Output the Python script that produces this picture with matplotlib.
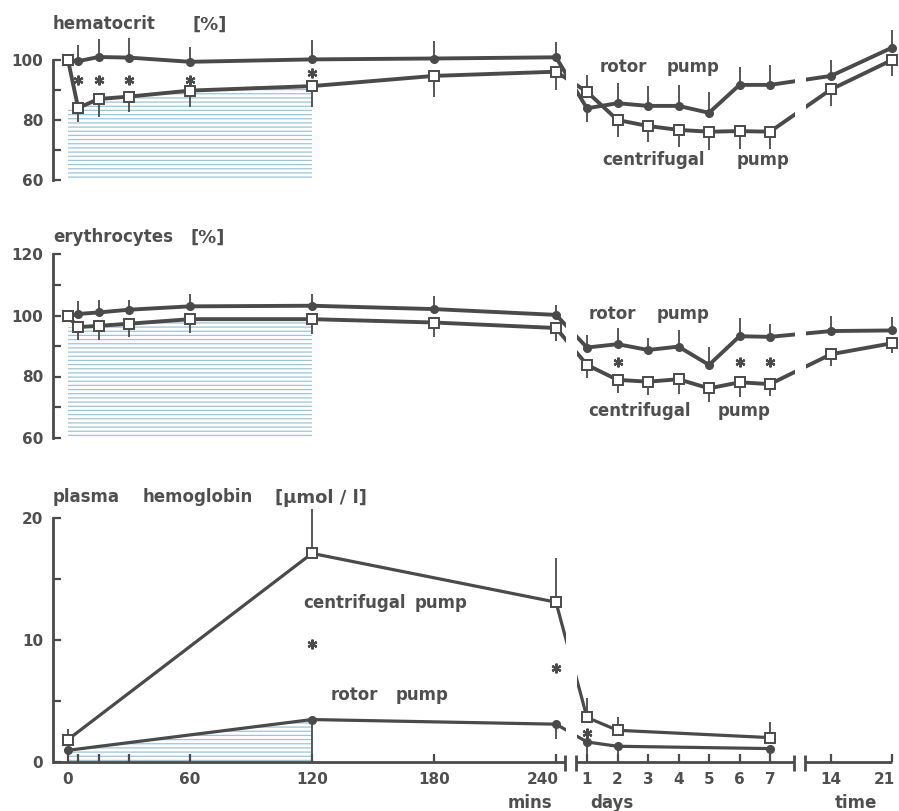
import numpy as np
import matplotlib
matplotlib.use('Agg')
import matplotlib.pyplot as plt
from matplotlib.transforms import ScaledTranslation

# sampling times: minutes during the run, then days afterwards
t_min = np.array([0, 5, 15, 30, 60, 120, 180, 240])
t_day = np.array([1, 2, 3, 4, 5, 6, 7, 14, 21])
t_pl_min = np.array([0, 120, 240])
t_pl_day = np.array([1, 2, 7])

# hematocrit [%]
hct_rot_min = [100, 99.6, 101, 100.8, 99.4, 100.2, 100.5, 100.9]
hct_rot_min_hi = [0, 5.5, 6, 6.5, 5, 6.5, 6, 5]
hct_rot_day = [83.9, 85.6, 84.7, 84.7, 82.4, 91.7, 91.7, 94.7, 104.1]
hct_rot_day_lo = [4.4, 0, 0, 0, 0, 0, 0, 0, 0]
hct_rot_day_hi = [0, 6.7, 6.7, 7, 7, 6.1, 6.7, 5.3, 5.9]
hct_cen_min = [100, 84, 87, 87.8, 89.8, 91.3, 94.7, 96.1]
hct_cen_min_lo = [0, 4.5, 6, 5, 5.5, 7, 7, 6]
hct_cen_day = [89.4, 80, 78, 76.7, 76.1, 76.3, 76.1, 90.2, 100]
hct_cen_day_lo = [0, 5.6, 5.2, 5.6, 6.1, 5.8, 5.6, 5.6, 5.3]
hct_cen_day_hi = [5.6, 0, 0, 0, 0, 0, 0, 0, 0]
hct_sig_x = [5, 15, 30, 60, 120]
hct_sig_y = [93.3, 93.3, 93.3, 93.3, 95.8]

# erythrocytes [%]
ery_rot_min = [99.7, 100.5, 101, 101.9, 103, 103.2, 102.1, 100.2]
ery_rot_min_hi = [0, 4.2, 4.2, 3.3, 4.2, 4, 4.2, 3.3]
ery_rot_day = [89.5, 90.6, 88.7, 89.8, 83.8, 93.2, 93, 94.9, 95.1]
ery_rot_day_hi = [4.2, 5.3, 3.9, 5.5, 6, 6, 4.1, 5, 4.5]
ery_cen_min = [99.7, 96.2, 96.6, 97.3, 98.8, 98.8, 97.7, 95.9]
ery_cen_min_lo = [0, 4.2, 4.6, 4.2, 4.6, 4.8, 4.8, 4.4]
ery_cen_day = [83.8, 78.9, 78.3, 79.1, 76.1, 78.1, 77.5, 87.3, 90.9]
ery_cen_day_lo = [4.4, 4.4, 4.4, 4.8, 4.4, 4.7, 4, 4, 3.3]
ery_sig_day = [2, 6, 7]
ery_sig_y = [84.6, 84.6, 84.6]

# plasma hemoglobin [umol/l]
phb_rot = [0.96, 3.48, 3.1, 1.64, 1.29, 1.1]
phb_rot_lo = [0, 3.4, 1.2, 1.6, 1.3, 0.7]
phb_cen = [1.84, 17.1, 13.1, 3.65, 2.6, 2.0]
phb_cen_hi = [0.9, 3.6, 3.6, 1.6, 1.1, 1.3]
phb_sig_x = [120, 240, 1440]
phb_sig_y = [9.7, 7.7, 2.4]

W, H = 899, 811
DARK = '#4a4a4a'
TXT = '#4f4f4f'
HATCH = '#9ec4d6'

plt.rcParams['font.family'] = 'DejaVu Sans'
plt.rcParams['font.weight'] = 'bold'
plt.rcParams['hatch.linewidth'] = 0.9

# broken time axis: minutes -> layout position
T_KNOTS = [-2000, 0, 240, 1440, 10080, 20160, 30240, 60000]
P_KNOTS = [68 - 2000 * 488 / 240, 68, 556, 587, 770, 831, 892,
           892 + 29760 * 61 / 10080]


def fwd(t):
    return np.interp(t, T_KNOTS, P_KNOTS)


def inv(p):
    return np.interp(p, P_KNOTS, T_KNOTS)


def times(mins, days):
    return np.concatenate([mins, np.asarray(days) * 1440])


fig = plt.figure(figsize=(W / 100, H / 100), dpi=100)


def px_axes(top, bottom):
    return fig.add_axes([53 / W, 1 - bottom / H, 1 - 53 / W, (bottom - top) / H])


def ftext(x, y, s, size=12):
    fig.text(x / W, 1 - y / H, s, ha='left', va='baseline', fontsize=size,
             color=TXT)


def series(ax, x, y, lo, hi, marker, lw):
    ax.plot(x, y, color=DARK, lw=lw, zorder=2, solid_joinstyle='round')
    ax.errorbar(x, y, yerr=[lo, hi], fmt='none', ecolor=DARK,
                elinewidth=1.3, capsize=0, zorder=3, clip_on=False)
    if marker == 'o':
        ax.plot(x, y, 'o', ms=5.5, color=DARK, zorder=4, clip_on=False)
    else:
        ax.plot(x, y, 's', ms=6.5, mfc='white', mec=DARK, mew=1.4,
                zorder=4, clip_on=False)


def stars(ax, x, y):
    ax.plot(x, y, ls='none', marker=(6, 2, 0), ms=7, mew=1.6, color=DARK)


def setup(ax, ylim, bounds, yticks, ylabels):
    ax.set_xscale('function', functions=(fwd, inv))
    ax.set_xlim(inv(53), inv(W))
    ax.set_ylim(*ylim)
    for s in ['top', 'right', 'bottom']:
        ax.spines[s].set_visible(False)
    ax.spines['left'].set_bounds(*bounds)
    ax.spines['left'].set_linewidth(2)
    ax.spines['left'].set_color(DARK)
    ax.set_yticks(yticks, ylabels)
    ax.tick_params(axis='y', direction='in', length=6, width=1.6, pad=7,
                   color=DARK, labelcolor=TXT, labelsize=11)
    ax.tick_params(axis='x', which='both', bottom=False, labelbottom=False)
    ax.patch.set_alpha(0)


x_all = times(t_min, t_day)
x_pl = times(t_pl_min, t_pl_day)

# ---- hematocrit
ax1 = px_axes(24, 192)
setup(ax1, (56, 112), (60, 100), [60, 70, 80, 90, 100],
      ['60', '', '80', '', '100'])
ax1.fill_between(t_min[:6], 60, np.r_[hct_cen_min[1], hct_cen_min[1:6]],
                 facecolor='none', edgecolor=HATCH, hatch='----', lw=0, zorder=1)
series(ax1, x_all, np.r_[hct_rot_min, hct_rot_day],
       np.r_[np.zeros(8), hct_rot_day_lo], np.r_[hct_rot_min_hi, hct_rot_day_hi],
       'o', 2.8)
series(ax1, x_all, np.r_[hct_cen_min, hct_cen_day],
       np.r_[hct_cen_min_lo, hct_cen_day_lo], np.r_[np.zeros(8), hct_cen_day_hi],
       's', 2.8)
stars(ax1, hct_sig_x, hct_sig_y)

# ---- erythrocytes
ax2 = px_axes(242.3, 449.7)
setup(ax2, (56, 124), (60, 120), [60, 70, 80, 90, 100, 110, 120],
      ['60', '', '80', '', '100', '', '120'])
ax2.fill_between(t_min[:6], 60, np.r_[ery_cen_min[1], ery_cen_min[1:6]],
                 facecolor='none', edgecolor=HATCH, hatch='----', lw=0, zorder=1)
series(ax2, x_all, np.r_[ery_rot_min, ery_rot_day],
       np.zeros(17), np.r_[ery_rot_min_hi, ery_rot_day_hi], 'o', 2.8)
series(ax2, x_all, np.r_[ery_cen_min, ery_cen_day],
       np.r_[ery_cen_min_lo, ery_cen_day_lo], np.zeros(17), 's', 2.8)
stars(ax2, np.asarray(ery_sig_day) * 1440, ery_sig_y)

# ---- plasma hemoglobin
ax3 = px_axes(499.7, 762)
setup(ax3, (0, 21.5), (0, 20), [0, 5, 10, 15, 20], ['0', '', '10', '', '20'])
ax3.fill_between(t_pl_min[:2], 0, phb_rot[:2], facecolor='none',
                 edgecolor=HATCH, hatch='----', lw=0, zorder=1)
series(ax3, x_pl, phb_rot, phb_rot_lo, np.zeros(6), 'o', 2.3)
series(ax3, x_pl, phb_cen, np.zeros(6), phb_cen_hi, 's', 2.3)
stars(ax3, phb_sig_x, phb_sig_y)

xt = times([0, 60, 120, 180, 240], [1, 2, 3, 4, 5, 6, 7, 14, 21])
xl = ['0', '60', '120', '180', '240', '1', '2', '3', '4', '5', '6', '7',
      '14', '21']
ax3.set_xticks(xt, xl)
ax3.set_xticks([5, 15, 30], minor=True)
ax3.tick_params(axis='x', which='both', bottom=True, labelbottom=True,
                direction='in', length=6, width=1.6, pad=7, color=DARK,
                labelcolor=TXT, labelsize=11)
for lab, dx in [(4, -13), (13, -8)]:
    t = ax3.get_xticklabels()[lab]
    t.set_transform(t.get_transform()
                    + ScaledTranslation(dx / 100, 0, fig.dpi_scale_trans))

# hand-drawn broken x axis
for a, b in [(inv(53), inv(565)), (inv(576), inv(794)), (inv(805), 21 * 1440)]:
    ax3.plot([a, b], [0, 0], color=DARK, lw=2, clip_on=False, zorder=5,
             solid_capstyle='butt')
ax3.vlines([inv(565), inv(576), inv(794), inv(805)], -0.75, 0.6, color=DARK,
           lw=2, clip_on=False, zorder=5)

# breaks in the curves
for ax in (ax1, ax2, ax3):
    ax.axvspan(inv(566), inv(577), facecolor='white', edgecolor='none',
               zorder=2.5)
for ax in (ax1, ax2):
    ax.axvspan(inv(795), inv(806), facecolor='white', edgecolor='none',
               zorder=2.5)

# titles and labels
ftext(53, 29, 'hematocrit')
ftext(192, 30, '[%]', 13)
ftext(53, 242, 'erythrocytes')
ftext(191, 243, '[%]', 13)
ftext(53, 502, 'plasma')
ftext(143, 502, 'hemoglobin')
ftext(275, 503, '[µmol / l]', 13)

ftext(600, 72, 'rotor')
ftext(667, 72, 'pump')
ftext(602, 165, 'centrifugal')
ftext(737, 165, 'pump')
ftext(589, 319, 'rotor')
ftext(657, 319, 'pump')
ftext(588, 416, 'centrifugal')
ftext(718, 416, 'pump')
ftext(303, 608, 'centrifugal')
ftext(415, 608, 'pump')
ftext(331, 700, 'rotor')
ftext(396, 700, 'pump')

ftext(508, 808, 'mins')
ftext(590, 808, 'days')
ftext(835, 808, 'time')

fig.savefig('out.png', dpi=100)
